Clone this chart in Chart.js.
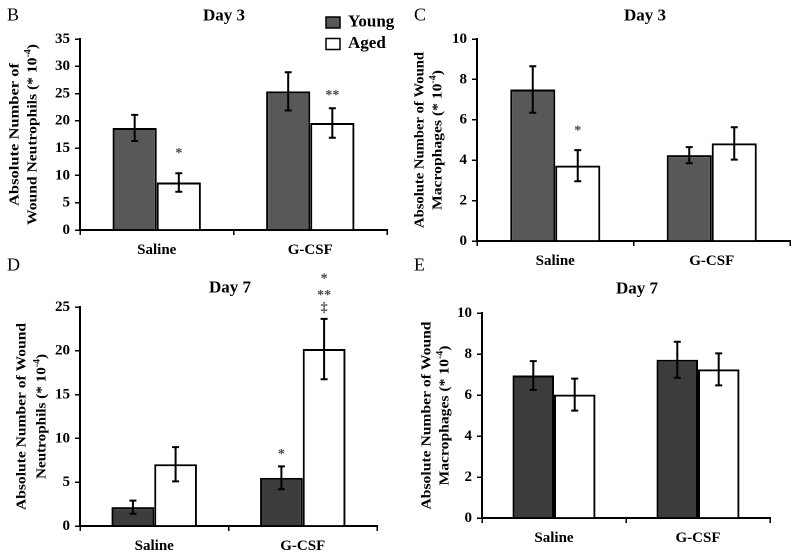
<!DOCTYPE html>
<html>
<head>
<meta charset="utf-8">
<script src="https://cdn.jsdelivr.net/npm/chart.js@4.4.1/dist/chart.umd.min.js"></script>
<style>
  html, body { margin: 0; padding: 0; background: #fff; }
  #wrap { position: relative; width: 800px; height: 557px; }
  #wrap canvas { position: absolute; left: 0; top: 0; }
</style>
</head>
<body>
<div id="wrap">
  <canvas id="panelB" width="800" height="557"></canvas>
  <canvas id="panelC" width="800" height="557"></canvas>
  <canvas id="panelD" width="800" height="557"></canvas>
  <canvas id="panelE" width="800" height="557"></canvas>
</div>
<script>
// --- data ---
const categories = ['Saline', 'G-CSF'];
const seriesNames = ['Young', 'Aged'];

// Day 3 neutrophils (B)
const neut3Young = [18.7, 25.4];
const neut3YoungErr = [2.4, 3.5];
const neut3Aged = [8.7, 19.6];
const neut3AgedErr = [1.7, 2.7];
const neut3Ticks = [0, 5, 10, 15, 20, 25, 30, 35];

// Day 3 macrophages (C)
const mac3Young = [7.5, 4.25];
const mac3YoungErr = [1.15, 0.4];
const mac3Aged = [3.73, 4.83];
const mac3AgedErr = [0.77, 0.8];
const mac3Ticks = [0, 2, 4, 6, 8, 10];

// Day 7 neutrophils (D)
const neut7Young = [2.15, 5.5];
const neut7YoungErr = [0.75, 1.3];
const neut7Aged = [7.05, 20.2];
const neut7AgedErr = [1.95, 3.45];
const neut7Ticks = [0, 5, 10, 15, 20, 25];

// Day 7 macrophages (E)
const mac7Young = [6.95, 7.72];
const mac7YoungErr = [0.7, 0.88];
const mac7Aged = [6.02, 7.25];
const mac7AgedErr = [0.78, 0.78];
const mac7Ticks = [0, 2, 4, 6, 8, 10];

const SERIF = "'Liberation Serif', 'Times New Roman', serif";
const Y_AXIS_W = 40;
const X_AXIS_H = 30;

// draws error bars, significance marks, titles, rotated y labels and legend
const decorPlugin = {
    id: 'decor',
    afterDatasetsDraw(chart, args, opts) {
        const ctx = chart.ctx;
        const yScale = chart.scales.y;

        // error bars
        ctx.save();
        ctx.strokeStyle = '#000';
        ctx.lineWidth = 2;
        chart.data.datasets.forEach((ds, i) => {
            chart.getDatasetMeta(i).data.forEach((bar, j) => {
                const top = yScale.getPixelForValue(ds.data[j] + ds.errors[j]);
                const bot = yScale.getPixelForValue(ds.data[j] - ds.errors[j]);
                ctx.beginPath();
                ctx.moveTo(bar.x, top); ctx.lineTo(bar.x, bot);
                ctx.moveTo(bar.x - 3.5, top); ctx.lineTo(bar.x + 3.5, top);
                ctx.moveTo(bar.x - 3.5, bot); ctx.lineTo(bar.x + 3.5, bot);
                ctx.stroke();
            });
        });
        ctx.restore();

        // significance marks above the error bars
        ctx.save();
        ctx.fillStyle = '#444';
        ctx.textAlign = 'center';
        ctx.textBaseline = 'middle';
        ctx.font = 'bold 14px ' + SERIF;
        (opts.marks || []).forEach(m => {
            const ds = chart.data.datasets[m.ds];
            const bar = chart.getDatasetMeta(m.ds).data[m.cat];
            let y = yScale.getPixelForValue(ds.data[m.cat] + ds.errors[m.cat]) - m.lift;
            // lines listed top to bottom, stack them upward
            for (let k = m.lines.length - 1; k >= 0; k--) {
                const t = m.lines[k];
                const glyphShift = t.includes('*') ? 4 : 0;
                ctx.fillText(t, bar.x, y + glyphShift);
                y -= 16.5;
            }
        });
        ctx.restore();

        // panel letter + title
        ctx.save();
        ctx.fillStyle = '#000';
        ctx.textBaseline = 'middle';
        ctx.textAlign = 'left';
        ctx.font = '18px ' + SERIF;
        ctx.fillText(opts.letter, opts.letterPos[0], opts.letterPos[1]);
        ctx.textAlign = 'center';
        ctx.font = 'bold 17px ' + SERIF;
        ctx.fillText(opts.title, opts.titlePos[0], opts.titlePos[1]);
        ctx.restore();

        // rotated two-line y label, each line fitted to its length in the figure
        const cy = (chart.chartArea.top + chart.chartArea.bottom) / 2;
        opts.yLines.forEach((segs, li) => {
            ctx.save();
            ctx.fillStyle = '#000';
            ctx.textBaseline = 'middle';
            ctx.textAlign = 'left';
            ctx.translate(opts.yLineX[li], cy);
            ctx.rotate(-Math.PI / 2);
            let w = 0;
            segs.forEach(s => {
                ctx.font = (s.sup ? 'bold 9px ' : 'bold 14px ') + SERIF;
                w += ctx.measureText(s.t).width;
            });
            ctx.scale(opts.yLens[li] / w, 1);
            let x = -w / 2;
            segs.forEach(s => {
                ctx.font = (s.sup ? 'bold 9px ' : 'bold 14px ') + SERIF;
                ctx.fillText(s.t, x, s.sup ? -5 : 0);
                x += ctx.measureText(s.t).width;
            });
            ctx.restore();
        });

        // legend (panel B only)
        if (opts.legendAt) {
            ctx.save();
            ctx.font = 'bold 17px ' + SERIF;
            ctx.textBaseline = 'middle';
            ctx.textAlign = 'left';
            chart.data.datasets.forEach((ds, i) => {
                const bx = opts.legendAt[0];
                const by = opts.legendAt[1] + i * 21.5;
                ctx.fillStyle = ds.backgroundColor;
                ctx.fillRect(bx, by, 14, 11);
                ctx.strokeStyle = '#000';
                ctx.lineWidth = 1.5;
                ctx.strokeRect(bx, by, 14, 11);
                ctx.fillStyle = '#000';
                ctx.fillText(ds.label, bx + 22, by + 5);
            });
            ctx.restore();
        }
    }
};

function makePanel(id, cfg) {
    const area = cfg.area; // [left, top, right, bottom] of the plot area
    return new Chart(document.getElementById(id), {
        type: 'bar',
        data: {
            labels: categories,
            datasets: [
                { label: seriesNames[0], data: cfg.young, errors: cfg.youngErr, backgroundColor: cfg.youngColor },
                { label: seriesNames[1], data: cfg.aged, errors: cfg.agedErr, backgroundColor: '#ffffff' }
            ]
        },
        options: {
            responsive: false,
            animation: false,
            devicePixelRatio: 2,
            layout: {
                padding: {
                    left: area[0] - Y_AXIS_W,
                    top: area[1],
                    right: 800 - area[2],
                    bottom: 557 - area[3] - X_AXIS_H
                }
            },
            datasets: {
                bar: {
                    borderColor: '#000',
                    borderWidth: 2,
                    barPercentage: 1,
                    categoryPercentage: 0.575
                }
            },
            plugins: {
                legend: { display: false },
                tooltip: { enabled: false },
                decor: cfg.decor
            },
            scales: {
                x: {
                    grid: { display: true, drawOnChartArea: false, offset: true, color: '#000', lineWidth: 1.5, tickLength: 5 },
                    border: { color: '#000', width: 2 },
                    ticks: { color: '#000', font: { family: SERIF, size: 15, weight: 'bold' }, padding: 6 },
                    afterFit: s => { s.height = X_AXIS_H; s.paddingLeft = 0; s.paddingRight = 0; }
                },
                y: {
                    min: cfg.ticks[0],
                    max: cfg.ticks[cfg.ticks.length - 1],
                    afterBuildTicks: s => { s.ticks = cfg.ticks.map(v => ({ value: v })); },
                    grid: { display: true, drawOnChartArea: false, color: '#000', lineWidth: 1.5, tickLength: 5 },
                    border: { color: '#000', width: 2 },
                    ticks: { color: '#000', font: { family: SERIF, size: 15, weight: 'bold' }, padding: 5 },
                    afterFit: s => { s.width = Y_AXIS_W; s.paddingTop = 0; s.paddingBottom = 0; }
                }
            }
        },
        plugins: [decorPlugin]
    });
}

const sup = { t: '-4', sup: true };

makePanel('panelB', {
    area: [80, 39, 387, 230],
    young: neut3Young, youngErr: neut3YoungErr,
    aged: neut3Aged, agedErr: neut3AgedErr,
    ticks: neut3Ticks, youngColor: '#585858',
    decor: {
        letter: 'B', letterPos: [7, 16], title: 'Day 3', titlePos: [224, 16],
        yLines: [[{ t: 'Absolute Number of' }], [{ t: 'Wound Neutrophils (* 10' }, sup, { t: ')' }]],
        yLineX: [15, 33], yLens: [143, 181],
        legendAt: [326, 17],
        marks: [{ ds: 1, cat: 0, lines: ['*'], lift: 24 }, { ds: 1, cat: 1, lines: ['**'], lift: 17 }]
    }
});

makePanel('panelC', {
    area: [477, 39, 790, 241],
    young: mac3Young, youngErr: mac3YoungErr,
    aged: mac3Aged, agedErr: mac3AgedErr,
    ticks: mac3Ticks, youngColor: '#585858',
    decor: {
        letter: 'C', letterPos: [414, 16], title: 'Day 3', titlePos: [645, 16],
        yLines: [[{ t: 'Absolute Number of Wound' }], [{ t: 'Macrophages (* 10' }, sup, { t: ')' }]],
        yLineX: [420, 438], yLens: [176, 140],
        marks: [{ ds: 1, cat: 0, lines: ['*'], lift: 23 }]
    }
});

makePanel('panelD', {
    area: [80, 307, 377, 526],
    young: neut7Young, youngErr: neut7YoungErr,
    aged: neut7Aged, agedErr: neut7AgedErr,
    ticks: neut7Ticks, youngColor: '#3c3c3c',
    decor: {
        letter: 'D', letterPos: [7, 266], title: 'Day 7', titlePos: [230, 288],
        yLines: [[{ t: 'Absolute Number of Wound' }], [{ t: 'Neutrophils (* 10' }, sup, { t: ')' }]],
        yLineX: [22, 42], yLens: [187, 125],
        marks: [{ ds: 0, cat: 1, lines: ['*'], lift: 16 }, { ds: 1, cat: 1, lines: ['*', '**', '\u2021'], lift: 11 }]
    }
});

makePanel('panelE', {
    area: [482, 313, 770, 518],
    young: mac7Young, youngErr: mac7YoungErr,
    aged: mac7Aged, agedErr: mac7AgedErr,
    ticks: mac7Ticks, youngColor: '#3c3c3c',
    decor: {
        letter: 'E', letterPos: [414, 266], title: 'Day 7', titlePos: [637, 289],
        yLines: [[{ t: 'Absolute Number of Wound' }], [{ t: 'Macrophages (* 10' }, sup, { t: ')' }]],
        yLineX: [427, 445], yLens: [188, 140],
        marks: []
    }
});
</script>
</body>
</html>
